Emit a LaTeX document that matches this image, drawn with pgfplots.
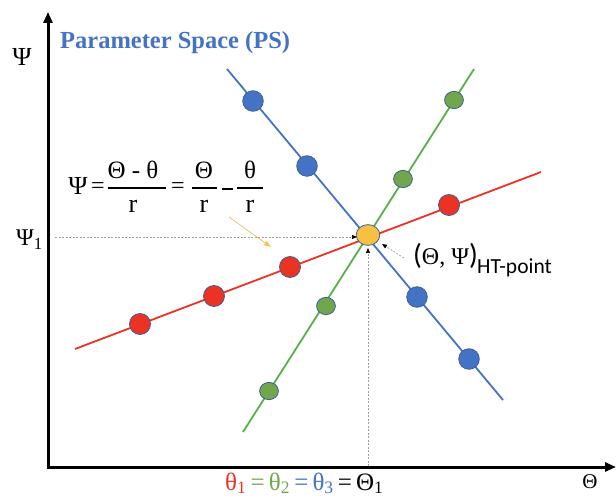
\documentclass[border=0pt]{standalone}
\usepackage{pgfplots}
\pgfplotsset{compat=1.18}
\usepackage{fontspec}
\setmainfont{Liberation Serif}
\newfontfamily\calibri{Carlito}
\usetikzlibrary{arrows.meta}
\definecolor{myblue}{HTML}{4472C4}
\definecolor{myred}{HTML}{EA3323}
\definecolor{mygreenline}{HTML}{57B04A}
\definecolor{mygreen}{HTML}{72A64C}
\definecolor{myyellow}{HTML}{F6C142}
\definecolor{outl}{HTML}{3F5F93}
\definecolor{lightorange}{HTML}{F5C163}
\begin{document}
\begin{tikzpicture}
\begin{axis}[width=616pt,height=497pt,scale only axis,
  xmin=0,xmax=616,ymin=0,ymax=497,y dir=reverse,
  hide axis,clip=false]
% axes
\addplot[black,line width=3pt,-{Triangle[length=11pt,width=9pt]}] coordinates {(48,468.5) (48,12)};
\addplot[black,line width=3pt,-{Triangle[length=11pt,width=9pt]}] coordinates {(46.5,467) (616,467)};
% dashed guides
\addplot[gray!75,line width=0.7pt,dash pattern=on 2pt off 1.5pt,-{Triangle[length=5pt,width=4pt,black]}] coordinates {(55,237) (357,237)};
\addplot[gray!75,line width=0.7pt,dash pattern=on 2pt off 1.5pt,-{Triangle[length=5pt,width=4pt,black]}] coordinates {(368,466) (368,248)};
\addplot[gray!75,line width=0.7pt,dash pattern=on 2pt off 1.5pt,-{Triangle[length=5pt,width=4pt,black]}] coordinates {(404,258) (382,244)};
\addplot[lightorange,line width=0.8pt,-{Triangle[length=7pt,width=5pt]}] coordinates {(229,217) (271,247)};
% lines
\addplot[myred,line width=1.8pt] coordinates {(75,349) (541,172)};
\addplot[myblue,line width=1.8pt] coordinates {(227,69) (503,400)};
\addplot[mygreenline,line width=1.8pt] coordinates {(243,432) (474,69)};
% dots
\addplot[only marks,mark=*,mark size=10.5pt,mark options={fill=myred,draw=outl,line width=0.8pt}] coordinates {(140,324) (214,296) (290,267) (449,205)};
\addplot[only marks,mark=*,mark size=10.3pt,mark options={fill=myblue,draw=outl,line width=0.8pt}] coordinates {(253,101) (307,166) (417,297) (469,359)};
\addplot[only marks,mark=*,mark size=9.4pt,mark options={fill=mygreen,draw=outl,line width=0.8pt,yscale=0.92}] coordinates {(454,100) (403,179) (326,306) (269,391)};
\addplot[only marks,mark=*,mark size=11.8pt,mark options={fill=myyellow,draw=outl,line width=0.8pt,yscale=0.88}] coordinates {(368,235)};
% formula bars
\addplot[black,line width=2pt] coordinates {(108,188) (166,188)};
\addplot[black,line width=2pt] coordinates {(192,188) (217,188)};
\addplot[black,line width=2pt] coordinates {(237,188) (263,188)};
\addplot[black,line width=1.2pt] coordinates {(222,189) (233,189)};
% texts
\node[font=\fontsize{24.5}{26}\selectfont\bfseries,text=myblue,anchor=base west,inner sep=0pt] at (axis cs:60,49) {Parameter Space (PS)};
\node[font=\fontsize{26}{28}\selectfont,inner sep=0pt] at (axis cs:22,57) {Ψ};
\node[font=\fontsize{24}{26}\selectfont,anchor=base west,inner sep=0pt] at (axis cs:16,246) {Ψ\textsubscript{1}};
\node[font=\fontsize{21}{22}\selectfont,inner sep=0pt] at (axis cs:590,482) {Θ};
\node[font=\fontsize{26}{28}\selectfont,inner sep=0pt] at (axis cs:78,186) {Ψ};
\node[font=\fontsize{24}{26}\selectfont,inner sep=0pt] at (axis cs:98,188) {=};
\node[font=\fontsize{24}{26}\selectfont,inner sep=0pt] at (axis cs:178,188) {=};
\node[font=\fontsize{25}{28}\selectfont,inner sep=0pt] at (axis cs:133,170) {Θ - θ};
\node[font=\fontsize{26}{28}\selectfont,inner sep=0pt] at (axis cs:133,206) {r};
\node[font=\fontsize{25}{28}\selectfont,inner sep=0pt] at (axis cs:204,170) {Θ};
\node[font=\fontsize{26}{28}\selectfont,inner sep=0pt] at (axis cs:204,206) {r};
\node[font=\fontsize{25}{28}\selectfont,inner sep=0pt] at (axis cs:250,170) {θ};
\node[font=\fontsize{26}{28}\selectfont,inner sep=0pt] at (axis cs:250,206) {r};
\node[anchor=base west,inner sep=0pt] at (axis cs:413,265) {{\calibri\fontsize{29}{30}\selectfont(}{\fontsize{24}{26}\selectfont Θ, Ψ}{\calibri\fontsize{29}{30}\selectfont)}};
\node[font=\calibri\fontsize{21.5}{23}\selectfont,anchor=base west,inner sep=0pt] at (axis cs:477,273) {HT-point};
\node[font=\fontsize{25}{27}\selectfont,anchor=base west,inner sep=0pt] at (axis cs:225,490) {{\color{myred}θ\textsubscript{1}}{\color{mygreen}\,=\,θ\textsubscript{2}}{\color{myblue}\,=\,θ\textsubscript{3}}\,=\,Θ\textsubscript{1}};
\end{axis}
\pgfresetboundingbox
\path (current axis.south west) rectangle (current axis.north east);
\end{tikzpicture}
\end{document}
